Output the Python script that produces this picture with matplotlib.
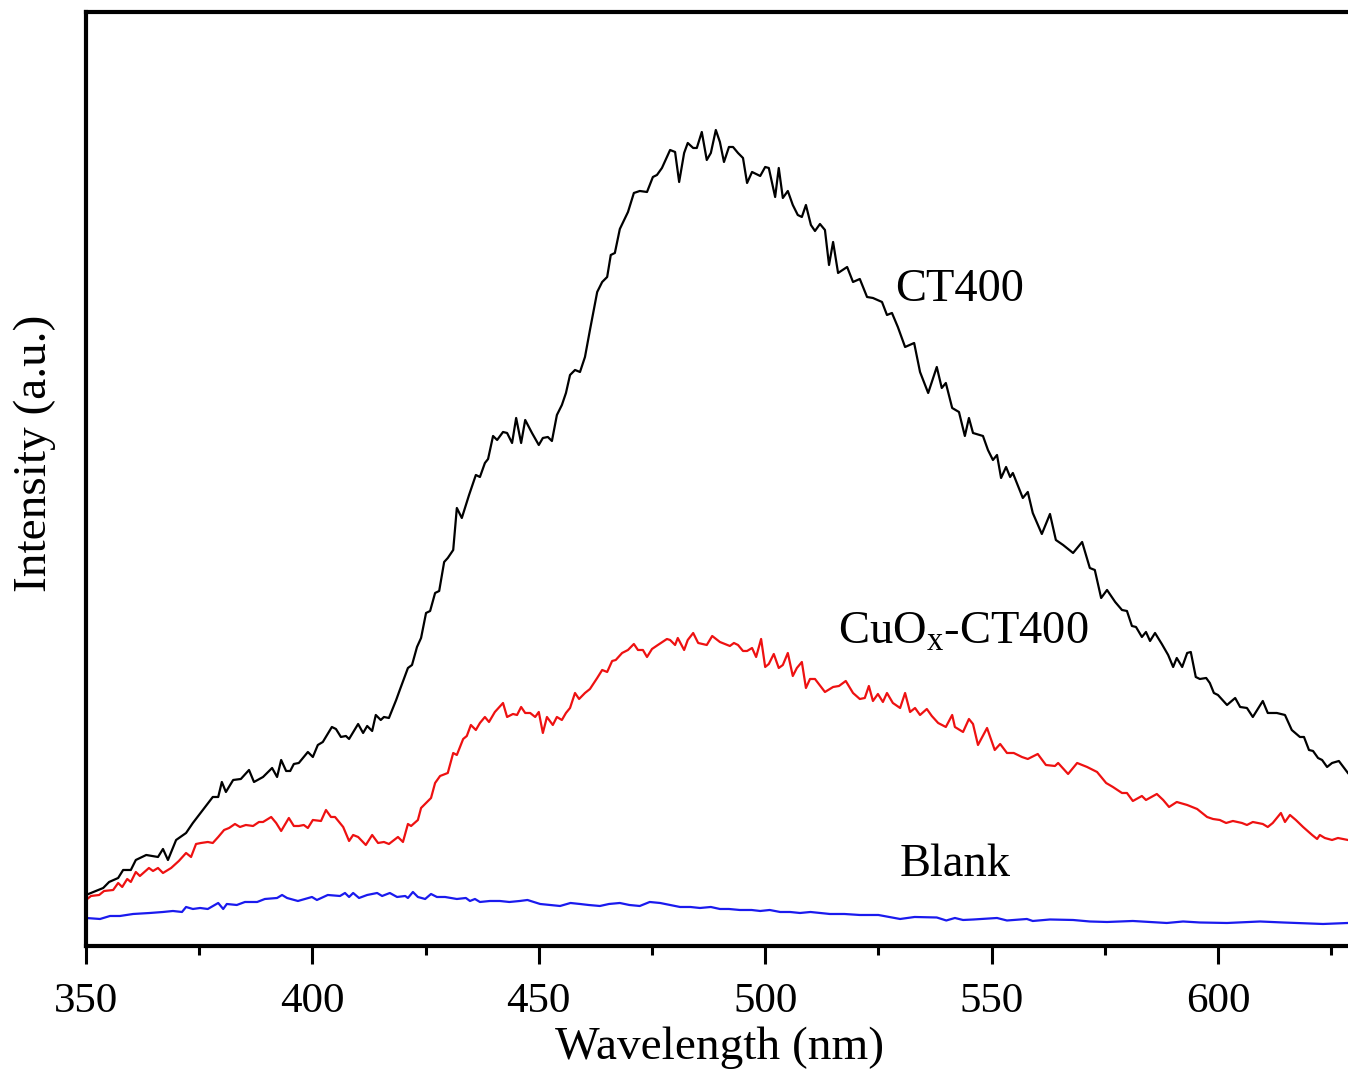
import matplotlib
matplotlib.use('Agg')
import matplotlib.pyplot as plt
from matplotlib.ticker import MultipleLocator

plt.rcParams['font.family'] = ['Liberation Serif', 'DejaVu Serif']
plt.rcParams['mathtext.fontset'] = 'custom'
plt.rcParams['mathtext.rm'] = 'Liberation Serif'

# PL spectra (wavelength in nm, intensity in a.u.)
ct400_wl = [350.0, 353.8, 355.1, 357.1, 358.2, 359.9, 361.0, 363.3, 365.9, 367.0, 368.1, 369.9,
            372.1, 373.6, 375.8, 378.0, 379.2, 380.0, 380.9, 382.5, 384.2, 386.0, 387.1, 389.1,
            391.1, 392.2, 393.1, 394.2, 395.1, 395.9, 397.0, 399.0, 400.1, 401.2, 402.3, 404.3,
            405.2, 406.3, 407.4, 408.1, 410.1, 411.2, 412.1, 413.2, 414.0, 415.1, 415.8, 416.9,
            418.5, 419.3, 421.1, 422.0, 423.1, 424.0, 425.1, 426.0, 427.1, 428.0, 429.1, 429.9,
            431.1, 431.9, 433.0, 434.6, 436.1, 437.0, 438.1, 438.8, 439.9, 440.8, 442.1, 443.0,
            444.1, 445.0, 446.1, 447.0, 448.5, 450.0, 450.9, 452.0, 452.9, 454.0, 455.1, 456.0,
            456.9, 458.0, 459.1, 460.2, 461.3, 462.9, 464.0, 465.1, 465.9, 466.8, 467.9, 469.7,
            471.0, 472.3, 473.9, 475.2, 476.1, 477.2, 479.0, 480.1, 481.0, 482.1, 482.9, 484.1,
            484.9, 486.0, 487.1, 488.0, 489.1, 490.0, 490.9, 492.0, 492.9, 494.0, 495.1, 496.0,
            497.1, 498.9, 500.0, 500.8, 502.2, 503.0, 503.9, 505.0, 506.1, 507.2, 508.1, 509.0,
            510.1, 511.0, 512.1, 513.2, 514.1, 515.0, 516.1, 518.1, 519.4, 520.9, 522.5, 523.8,
            525.8, 526.9, 528.0, 529.3, 530.9, 532.9, 534.2, 536.0, 537.9, 539.0, 539.9, 541.3,
            542.8, 544.1, 545.0, 545.9, 548.1, 549.2, 550.3, 551.2, 552.1, 553.2, 554.1, 554.7,
            556.9, 558.0, 559.1, 561.1, 562.9, 564.2, 565.8, 568.0, 570.0, 571.7, 572.8, 574.2,
            575.5, 577.3, 578.8, 579.9, 581.0, 581.9, 583.2, 584.1, 585.0, 586.1, 587.6, 589.0,
            590.1, 590.9, 592.1, 593.2, 594.0, 595.1, 596.0, 597.4, 598.2, 599.1, 600.0, 602.0,
            603.8, 604.9, 606.4, 607.7, 609.9, 611.0, 613.0, 614.8, 616.3, 618.1, 619.0, 620.1,
            621.0, 622.1, 623.0, 624.1, 625.2, 626.7, 628.7]
ct400_int = [51, 58, 64, 68, 76, 76, 86, 91, 89, 97, 86, 106,
             113, 123, 136, 149, 149, 164, 154, 166, 167, 176, 164, 169,
             178, 169, 186, 175, 175, 182, 183, 194, 189, 201, 204, 219,
             217, 209, 210, 207, 222, 213, 220, 215, 231, 226, 229, 228,
             246, 256, 278, 281, 299, 308, 333, 335, 353, 355, 384, 388,
             396, 438, 428, 451, 471, 469, 483, 487, 510, 506, 514, 513,
             503, 528, 503, 526, 513, 501, 508, 509, 505, 531, 541, 553,
             571, 576, 574, 589, 616, 654, 664, 669, 691, 693, 717, 734,
             753, 755, 754, 769, 771, 778, 796, 794, 764, 793, 803, 798,
             798, 814, 786, 793, 816, 804, 784, 799, 799, 793, 788, 763,
             774, 770, 779, 778, 749, 778, 748, 755, 741, 731, 729, 741,
             721, 715, 722, 716, 681, 704, 673, 679, 664, 667, 649, 648,
             644, 631, 633, 619, 599, 603, 574, 553, 579, 558, 563, 538,
             534, 510, 528, 513, 510, 496, 486, 491, 468, 479, 469, 473,
             448, 454, 433, 412, 432, 406, 401, 393, 404, 378, 376, 348,
             356, 344, 336, 335, 320, 319, 309, 314, 305, 313, 302, 291,
             279, 288, 279, 293, 294, 269, 267, 268, 263, 253, 251, 241,
             248, 239, 238, 229, 245, 233, 233, 231, 216, 209, 209, 196,
             195, 188, 186, 179, 183, 185, 173]

cuox_wl = [350.0, 351.1, 352.9, 354.0, 356.0, 357.1, 358.0, 359.1, 359.9, 361.0, 361.9, 363.9,
           364.8, 365.9, 367.0, 368.8, 370.5, 372.1, 373.2, 374.3, 375.4, 376.9, 378.0, 379.2,
           380.5, 381.6, 382.9, 384.0, 385.3, 386.9, 388.2, 389.1, 390.9, 392.0, 393.1, 394.8,
           395.9, 397.0, 398.1, 399.0, 400.1, 401.9, 403.0, 404.1, 405.0, 406.8, 408.1, 409.0,
           410.1, 411.8, 413.2, 414.5, 415.8, 416.9, 418.9, 420.0, 421.1, 421.8, 423.3, 424.0,
           425.1, 426.2, 427.1, 428.2, 429.9, 431.1, 431.9, 433.3, 434.1, 435.0, 436.1, 437.0,
           438.1, 439.0, 440.3, 442.1, 443.0, 444.3, 445.2, 446.1, 447.0, 448.1, 449.2, 450.0,
           450.9, 451.8, 453.1, 454.0, 455.1, 456.0, 456.9, 458.0, 458.9, 460.2, 461.3, 462.9,
           464.0, 465.1, 466.2, 467.0, 468.4, 469.7, 471.0, 471.9, 473.0, 473.9, 475.0, 476.3,
           478.3, 479.0, 480.1, 480.7, 482.1, 482.9, 484.1, 485.2, 487.1, 488.3, 490.0, 491.1,
           492.2, 493.1, 494.0, 495.1, 496.0, 497.1, 498.0, 499.1, 500.0, 500.8, 501.9, 503.0,
           503.9, 505.0, 506.1, 507.0, 508.1, 509.0, 509.9, 511.0, 513.2, 515.0, 516.3, 517.8,
           519.4, 520.9, 522.0, 522.9, 523.8, 524.9, 526.0, 526.9, 528.2, 529.8, 530.9, 532.0,
           533.1, 534.2, 535.7, 536.8, 538.2, 539.9, 541.3, 541.9, 543.7, 545.0, 545.9, 547.0,
           549.0, 550.7, 551.9, 553.4, 554.9, 556.7, 558.0, 560.2, 562.0, 564.0, 564.7, 566.9,
           568.9, 571.1, 573.3, 575.3, 576.8, 578.8, 579.9, 581.2, 583.2, 584.1, 586.5, 587.9,
           589.2, 590.9, 593.2, 595.4, 597.6, 598.9, 600.4, 601.8, 603.3, 605.3, 606.4, 607.7,
           609.9, 611.0, 612.1, 613.9, 614.8, 615.9, 617.2, 618.8, 620.8, 621.9, 622.5, 623.6,
           625.2, 626.5, 628.7]
cuox_int = [46, 50, 51, 55, 56, 63, 59, 67, 64, 74, 70, 78,
            75, 78, 73, 78, 85, 93, 89, 102, 103, 104, 103, 109,
            116, 118, 122, 119, 121, 120, 124, 124, 129, 123, 115, 128,
            120, 120, 121, 118, 126, 125, 136, 129, 129, 119, 105, 111,
            109, 101, 111, 103, 104, 102, 109, 104, 122, 120, 126, 138,
            143, 148, 163, 170, 173, 193, 191, 207, 210, 221, 216, 223,
            229, 224, 234, 243, 229, 232, 231, 239, 233, 233, 229, 234,
            213, 229, 221, 229, 226, 233, 238, 253, 247, 253, 257, 268,
            276, 274, 285, 286, 293, 296, 302, 296, 296, 289, 297, 301,
            307, 306, 301, 308, 296, 306, 313, 303, 301, 310, 304, 302,
            300, 303, 301, 295, 295, 298, 289, 307, 279, 282, 292, 278,
            281, 293, 270, 278, 284, 258, 267, 267, 254, 259, 260, 265,
            253, 247, 248, 260, 245, 252, 244, 253, 243, 238, 253, 234,
            238, 231, 237, 230, 223, 219, 231, 219, 214, 227, 222, 201,
            218, 196, 202, 193, 193, 189, 187, 192, 181, 180, 183, 172,
            183, 179, 174, 163, 159, 153, 153, 145, 150, 146, 152, 146,
            139, 144, 141, 137, 129, 127, 126, 123, 125, 123, 121, 124,
            122, 119, 123, 133, 124, 131, 126, 119, 111, 107, 111, 108,
            106, 108, 106]

blank_wl = [350.0, 353.1, 355.3, 357.5, 360.4, 364.1, 367.0, 369.2, 371.2, 372.1, 373.6, 375.2,
            376.9, 379.2, 380.3, 381.1, 383.3, 385.1, 387.8, 389.5, 392.2, 393.3, 394.4, 396.8,
            399.9, 401.0, 403.4, 406.1, 407.2, 408.1, 409.0, 410.3, 412.1, 414.3, 415.4, 417.1,
            418.7, 420.5, 421.1, 422.2, 423.3, 424.9, 426.2, 427.5, 429.3, 431.9, 433.9, 434.8,
            435.9, 437.0, 439.2, 441.4, 443.5, 445.8, 447.5, 450.3, 452.5, 454.7, 457.0, 459.1,
            461.0, 463.5, 465.5, 467.9, 470.0, 472.3, 474.5, 476.8, 479.0, 481.2, 483.5, 485.6,
            488.0, 490.0, 492.0, 494.4, 497.0, 498.9, 501.0, 503.3, 505.5, 507.7, 510.0, 514.3,
            517.5, 520.9, 525.0, 529.8, 533.0, 537.9, 540.0, 541.9, 543.7, 546.0, 551.2, 553.4,
            557.8, 559.1, 562.9, 568.0, 571.7, 575.5, 581.2, 588.7, 592.3, 596.0, 602.0, 609.3,
            614.4, 623.2, 628.7]
blank_int = [28, 27, 30, 30, 32, 33, 34, 35, 34, 39, 37, 38,
             37, 43, 37, 42, 41, 44, 44, 47, 48, 51, 48, 45,
             49, 46, 51, 50, 53, 49, 53, 48, 51, 53, 50, 53,
             49, 50, 48, 54, 49, 47, 52, 49, 49, 47, 48, 45,
             47, 44, 45, 45, 44, 45, 46, 42, 41, 40, 43, 42,
             41, 40, 42, 43, 41, 40, 44, 43, 41, 39, 39, 38,
             39, 37, 37, 36, 36, 35, 36, 34, 34, 33, 34, 32,
             32, 31, 31, 27, 29, 28.5, 25.5, 28, 26, 26.5, 28, 25.5,
             27, 25, 26.5, 26, 24.5, 24, 25, 23, 24.5, 23.5, 23, 24.5,
             23.5, 22, 23]

fig = plt.figure(figsize=(13.48, 10.70), dpi=100)
ax = fig.add_axes([0.0638, 0.1159, 0.9405, 0.8729])

ax.plot(ct400_wl, ct400_int, color='black', lw=1.6)
ax.plot(cuox_wl, cuox_int, color='#ee1111', lw=1.6)
ax.plot(blank_wl, blank_int, color='#1a1aee', lw=1.6)

ax.set_xlim(350, 630)
ax.set_ylim(0, 934)
ax.xaxis.set_major_locator(MultipleLocator(50))
ax.xaxis.set_minor_locator(MultipleLocator(25))
ax.set_yticks([])
ax.tick_params(axis='x', which='major', direction='out', length=13, width=2.2,
               labelsize=31, pad=13)
ax.tick_params(axis='x', which='minor', direction='out', length=6.5, width=2.2)
for s in ax.spines.values():
    s.set_linewidth(3)

ax.set_xlabel('Wavelength (nm)', fontsize=34, labelpad=4)
ax.set_ylabel('Intensity (a.u.)', fontsize=34)
ax.yaxis.set_label_coords(-0.024, 0.527)

ax.text(528.7, 656, 'CT400', fontsize=33.5, va='center', ha='left')
ax.text(516.1, 314, r'CuO$_\mathrm{x}$-CT400', fontsize=33.5, va='center', ha='left')
ax.text(529.8, 81, 'Blank', fontsize=33.5, va='center', ha='left')

fig.savefig('out.png', dpi=100)
